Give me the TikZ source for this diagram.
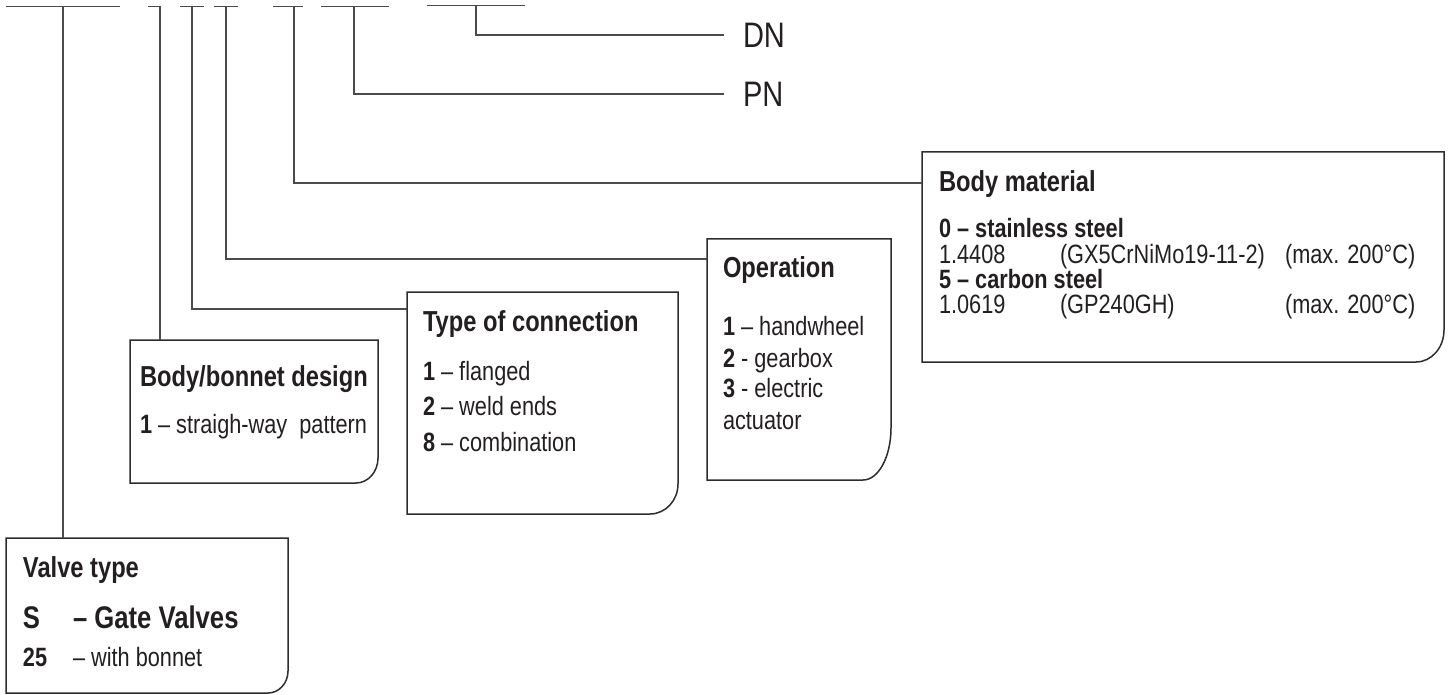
\documentclass[tikz,border=0pt]{standalone}
\usepackage{fontspec}
\setmainfont{Liberation Sans}[FakeStretch=0.82]
\usetikzlibrary{calc}
\definecolor{ink}{RGB}{35,31,32}
\definecolor{wirec}{RGB}{75,75,75}
\definecolor{framec}{RGB}{45,45,45}
\tikzset{
 wire/.style={draw=wirec, line width=1.3pt},
 frame/.style={draw=framec, line width=1.5pt},
 area/.style={inner sep=0pt, outer sep=0pt, anchor=north west, draw=none},
 txt/.style={inner sep=0pt, outer sep=0pt, anchor=west, text=ink, text depth=0pt},
 ttl/.style={txt, text height=20.8pt, font=\fontsize{28.9}{32}\selectfont\bfseries},
 itm/.style={txt, text height=19pt, font=\fontsize{26.5}{30}\selectfont},
 itmb/.style={txt, text height=19pt, font=\fontsize{26.5}{30}\selectfont\bfseries},
 big/.style={txt, text height=22.5pt, font=\fontsize{31.3}{35}\selectfont\bfseries},
 dnpn/.style={txt, text height=25.5pt, font=\fontsize{35.4}{40}\selectfont},
}
\newcommand\cornerbox[3]{%
 \draw[frame] (#1.north west) -- (#1.north east) -- ($(#1.south east)+(0,-#3)$)
  .. controls ($(#1.south east)+(0,-0.448*#3)$) and ($(#1.south east)+(-0.448*#2,0)$) ..
  ($(#1.south east)+(-#2,0)$) -- (#1.south west) -- cycle;}
\begin{document}
\begin{tikzpicture}[x=1pt,y=-1pt]
\useasboundingbox (0,0) rectangle (1451,695);
% top code bars
\coordinate (b1a) at (6,6.4);   \coordinate (b1b) at (120,6.4);
\coordinate (b2a) at (148,6.4); \coordinate (b2b) at (161,6.4);
\coordinate (b3a) at (180,6.4); \coordinate (b3b) at (204,6.4);
\coordinate (b4a) at (214,6.4); \coordinate (b4b) at (238,6.4);
\coordinate (b5a) at (273,6.4); \coordinate (b5b) at (303,6.4);
\coordinate (b6a) at (321,6.4); \coordinate (b6b) at (389,6.4);
\coordinate (b7a) at (427,5.8); \coordinate (b7b) at (525,5.8);
\foreach \i in {1,...,7} {\draw[wire] (b\i a) -- (b\i b);}
\coordinate (t1) at (63,6.4);
\coordinate (t2) at (160,6.4);
\coordinate (t3) at (192,6.4);
\coordinate (t4) at (226,6.4);
\coordinate (t5) at (294,6.4);
\coordinate (t6) at (354,6.4);
\coordinate (t7) at (476,5.8);
% boxes
\node[area, minimum width=282pt, minimum height=155pt] (vt) at (6,538) {};
\node[area, minimum width=248pt, minimum height=143pt] (bb) at (130,340) {};
\node[area, minimum width=271pt, minimum height=222pt] (tc) at (407,292) {};
\node[area, minimum width=184pt, minimum height=241pt] (op) at (707,239) {};
\node[area, minimum width=522pt, minimum height=210pt] (bm) at (922,152) {};
\cornerbox{vt}{20}{22}
\cornerbox{bb}{22}{25}
\cornerbox{tc}{28}{30}
\cornerbox{op}{28}{52}
\cornerbox{bm}{28}{32}
% DN / PN labels
\node[dnpn] (dn) at (743,35) {DN};
\node[dnpn] (pn) at (743,94) {PN};
% connectors
\draw[wire] (t1) -- (t1 |- vt.north);
\draw[wire] (t2) -- (t2 |- bb.north);
\draw[wire] (t3) |- ($(tc.north west)+(0,17)$);
\draw[wire] (t4) |- ($(op.north west)+(0,20)$);
\draw[wire] (t5) |- ($(bm.north west)+(0,31)$);
\draw[wire] (t6) |- ([xshift=-19pt]pn.west);
\draw[wire] (t7) |- ([xshift=-19pt]dn.west);
% valve type
\node[ttl] (vt1) at (23,567) {Valve type};
\node[big] (vt2) at (23,617) {S};
\node[big] (vt3) at (73,617) {– Gate Valves};
\node[itmb] (vt4) at (23,657) {25};
\node[itm] (vt5) at (73,657) {– with bonnet};
% body/bonnet
\node[ttl] (bb1) at (140,376) {Body/bonnet design};
\node[itm] (bb2) at (140,424) {\textbf{1} – straigh-way\ \ pattern};
% type of connection
\node[ttl] (tc1) at (423,321) {Type of connection};
\node[itm] (tc2) at (423,371) {\textbf{1} – flanged};
\node[itm] (tc3) at (423,406) {\textbf{2} – weld ends};
\node[itm] (tc4) at (423,442) {\textbf{8} – combination};
% operation
\node[ttl] (op1) at (723,267) {Operation};
\node[itm] (op2) at (723,326) {\textbf{1} – handwheel};
\node[itm] (op3) at (723,358) {\textbf{2} - gearbox};
\node[itm] (op4) at (723,388) {\textbf{3} - electric};
\node[itm] (op5) at (723,420) {actuator};
% body material
\node[ttl] (bm1) at (939,181) {Body material};
\node[itmb] (bm2) at (939,228) {0 – stainless steel};
\node[itm] (bm3) at (939,254) {1.4408};
\node[itm] (bm4) at (1060,254) {(GX5CrNiMo19-11-2)};
\node[itm] (bm5) at (1285,254) {(max. 200°C)};
\node[itmb] (bm6) at (939,279) {5 – carbon steel};
\node[itm] (bm7) at (939,304) {1.0619};
\node[itm] (bm8) at (1060,304) {(GP240GH)};
\node[itm] (bm9) at (1285,304) {(max. 200°C)};
\end{tikzpicture}
\end{document}
